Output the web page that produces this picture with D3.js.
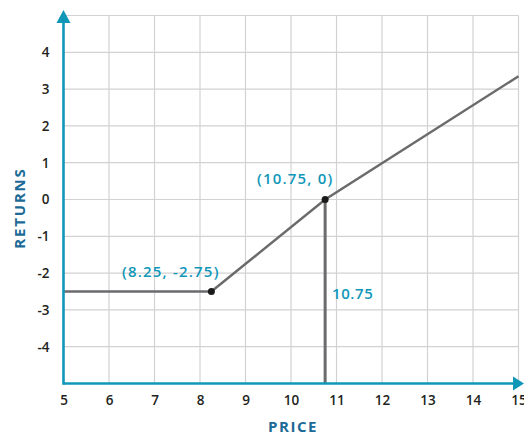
<!DOCTYPE html>
<html><head><meta charset="utf-8">
<script src="https://cdn.jsdelivr.net/npm/d3@7/dist/d3.min.js"></script>
<style>body{margin:0;background:#fff}svg{display:block}</style>
</head><body>
<svg id="c" width="524" height="435"></svg>
<script>
const xTicks = [5,6,7,8,9,10,11,12,13,14,15];
const yTicks = [-4,-3,-2,-1,0,1,2,3,4];
const payoffX = [5, 8.25, 10.75, 15];
const payoffY = [-2.5, -2.5, 0, 3.35];
const strikeX = [10.75, 10.75];
const strikeY = [0, -5];
const annoX = [8.25, 10.75];
const annoY = [-2.5, 0];
const annoText = ["(8.25, -2.75)", "(10.75, 0)"];
const strikeLabel = "10.75";

const svg = d3.select("#c");
const x = d3.scaleLinear().domain([5,15]).range([63.5,518.5]);
const y = d3.scaleLinear().domain([-5,5]).range([383.5,15.5]);
const teal = "#1097b8", dark = "#231f20", title = "#1c6a96", gray = "#6b6b6d";
const font = "'Open Sans', sans-serif";
const fmt = d => String(d);

// grid
const g = svg.append("g");
g.selectAll(".vx").data(xTicks.slice(1)).join("line")
  .attr("x1", d=>x(d)).attr("x2", d=>x(d)).attr("y1", y(5)).attr("y2", y(-5))
  .attr("stroke", "#d2d2d2").attr("stroke-width", 1.2);
g.selectAll(".hy").data(yTicks.concat([5])).join("line")
  .attr("x1", x(5)).attr("x2", x(15)).attr("y1", d=>y(d)).attr("y2", d=>y(d))
  .attr("stroke", "#d2d2d2").attr("stroke-width", 1.2);

// axes with d3 axis for labels
const xAxis = svg.append("g").attr("transform", `translate(0,${y(-5)})`)
  .call(d3.axisBottom(x).tickValues(xTicks).tickSize(0).tickPadding(12).tickFormat(fmt));
xAxis.select(".domain").remove();
xAxis.selectAll("text").attr("font-family", font).attr("font-size", 13.5).attr("font-weight", 600).attr("fill", dark);

const yAxis = svg.append("g").attr("transform", `translate(${x(5)},0)`)
  .call(d3.axisLeft(y).tickValues(yTicks).tickSize(0).tickPadding(14).tickFormat(fmt));
yAxis.select(".domain").remove();
yAxis.selectAll("text").attr("font-family", font).attr("font-size", 13.5).attr("font-weight", 600).attr("fill", dark);

// payoff line
const line = d3.line().x(d=>x(d[0])).y(d=>y(d[1]));
svg.append("path").datum(payoffX.map((v,i)=>[v,payoffY[i]]))
  .attr("d", line).attr("fill","none").attr("stroke", gray).attr("stroke-width", 2.5);
svg.append("path").datum(strikeX.map((v,i)=>[v,strikeY[i]]))
  .attr("d", line).attr("fill","none").attr("stroke", gray).attr("stroke-width", 3);

// axis lines + arrows
svg.append("line").attr("x1", x(5)).attr("x2", 514).attr("y1", y(-5)).attr("y2", y(-5))
  .attr("stroke", teal).attr("stroke-width", 2.6);
svg.append("line").attr("x1", x(5)).attr("x2", x(5)).attr("y1", y(-5)+1.3).attr("y2", 22)
  .attr("stroke", teal).attr("stroke-width", 2.6);
svg.append("path").attr("d", `M${x(5)-7},23 L${x(5)},10 L${x(5)+7},23 Z`).attr("fill", teal);
svg.append("path").attr("d", `M513,${y(-5)-7} L524,${y(-5)} L513,${y(-5)+7} Z`).attr("fill", teal);

// points
svg.selectAll(".pt").data(annoX).join("circle")
  .attr("cx", d=>x(d)).attr("cy", (d,i)=>y(annoY[i])).attr("r", 3.5).attr("fill", "#1a1a1a");

// annotations
const lab = (tx, ty, t) => svg.append("text").attr("x", tx).attr("y", ty).text(t)
  .attr("font-family", font).attr("font-size", 15).attr("font-weight", 600)
  .attr("letter-spacing", 1.2).attr("fill", teal);
lab(122, 277, annoText[0]);
lab(257, 183.5, annoText[1]);
lab(332, 298.5, strikeLabel).attr("letter-spacing", 0.6);

// axis titles
svg.append("text").attr("x", 293).attr("y", 432).attr("text-anchor","middle").text("PRICE")
  .attr("font-family", font).attr("font-size", 15).attr("font-weight", 700).attr("fill", title).attr("letter-spacing", 1.6);
svg.append("text").attr("transform", "translate(25,208) rotate(-90)").attr("text-anchor","middle").text("RETURNS")
  .attr("font-family", font).attr("font-size", 15).attr("font-weight", 700).attr("fill", title).attr("letter-spacing", 1.8);
</script>
</body></html>
